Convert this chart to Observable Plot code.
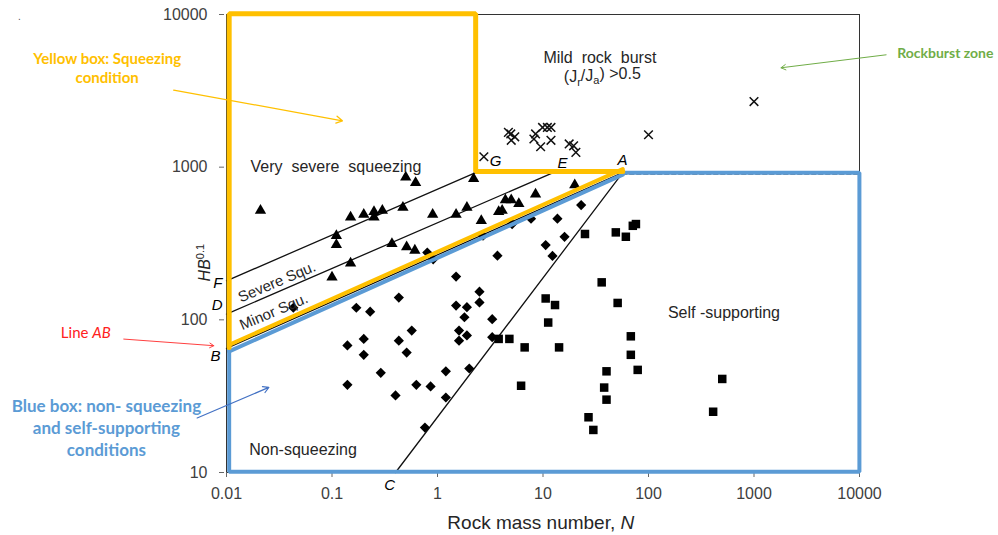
<!DOCTYPE html>
<html><head><meta charset="utf-8">
<script src="https://cdn.jsdelivr.net/npm/d3@7"></script>
<script src="https://cdn.jsdelivr.net/npm/@observablehq/plot@0.6"></script>
<style>body{margin:0;background:#fff;}</style>
</head><body><div id="chart"></div>
<script>
// ---- tick values ----
const xTicks = [0.01, 0.1, 1, 10, 100, 1000, 10000];
const yTicks = [10, 100, 1000, 10000];

// ---- case histories [N, HB^0.1] ----
const triangles = [[0.021,520],[0.50,860],[0.62,790],[2.2,840],[0.15,470],[0.20,490],[0.25,510],[0.30,520],[0.25,470],[0.47,545],[0.90,490],[1.5,490],[1.9,545],[3.8,510],[0.11,355],[0.11,310],[0.37,315],[0.51,300],[0.61,285],[0.15,235],[0.10,190],[2.6,445],[4.4,610],[5.0,610],[5.9,575],[4.1,520],[8.5,665],[20,765]];
const diamonds = [[0.043,120],[0.17,120],[0.23,113],[0.43,140],[1.5,192],[2.5,153],[2.5,130],[1.5,124],[1.9,121],[1.8,104],[3.3,101],[3.7,263],[0.80,276],[0.91,249],[2.7,356],[0.14,68],[0.20,75],[0.43,73],[0.57,85],[1.6,85],[1.9,79],[1.6,73],[3.3,77],[0.20,59],[0.51,61],[0.29,45],[0.14,37.5],[0.40,32],[0.63,37.5],[0.86,36.6],[1.2,46],[1.2,31],[2.0,48],[0.76,19.7],[23,565],[7.7,460],[13.7,460],[5.1,424],[16,350],[10.6,309],[12.3,262]];
const squares = [[25,365],[49,374],[61,350],[71,413],[76,424],[36,176],[10.6,138],[13,125],[51,129],[11.2,96],[68,78],[3.8,75],[4.8,75],[6.7,66],[14.2,66],[6.2,37],[68,59],[79,47],[40,46],[38,36],[40,30],[27,23],[30,19],[500,41],[410,25]];
const crosses = [[2.75,1170],[4.7,1690],[4.95,1650],[5.4,1580],[5.0,1500],[8.5,1650],[8.2,1530],[9.9,1820],[11.0,1820],[11.9,1820],[9.5,1360],[11.9,1500],[17.7,1420],[19.5,1380],[20.5,1250],[100,1630],[1000,2690]];

// ---- boundary lines ----
const lineAB = [[0.01,65],[57,920]];
const lineFG = [[0.01,180],[2.3,920]];
const lineDE = [[0.01,109],[12.5,920]];
const lineAC = [[57,920],[0.40,10]];
const lineAdash = [[57,920],[9980,920]];
const yellowBox = [[0.0106,66],[0.0106,10100],[2.3,10100],[2.3,935],[57,935]];
const yellowAB = [[57,935],[0.0106,66]];
const blueBox = [[57,920],[9980,920],[9980,10.1],[0.0106,10.1],[0.0106,64]];
const blueAB = [[0.0106,64],[57,920]];

const P = a => a.map(([x, y]) => ({x, y}));
const note = (t, x, y, o) => Plot.text([{t, x, y}], {x: "x", y: "y", text: "t", ...o});
const arrow = (x1, y1, x2, y2, o) => Plot.arrow([{x1, y1, x2, y2}], {x1: "x1", y1: "y1", x2: "x2", y2: "y2", headLength: 8, ...o});

const ink = "#262626";
const chart = Plot.plot({
  width: 998, height: 535,
  marginLeft: 226, marginRight: 139, marginTop: 14, marginBottom: 63,
  style: {fontFamily: "'Liberation Sans', Arial, sans-serif", fontSize: "16px", color: "#404040", background: "#fff"},
  x: {type: "log", domain: [0.01, 10000]},
  y: {type: "log", domain: [10, 10000]},
  marks: [
    Plot.frame({stroke: "#333", strokeWidth: 1}),
    Plot.axisX(xTicks, {tickSize: 5, tickPadding: 10, tickFormat: d => String(d), label: null, stroke: "#666"}),
    Plot.axisY(yTicks, {tickSize: 5, tickPadding: 12, tickFormat: d => String(d), label: null, stroke: "#666", dx: -2}),
    Plot.line(P(lineFG), {x: "x", y: "y", stroke: "#111", strokeWidth: 1.3}),
    Plot.line(P(lineDE), {x: "x", y: "y", stroke: "#111", strokeWidth: 1.3}),
    Plot.line(P(lineAB), {x: "x", y: "y", stroke: "#111", strokeWidth: 1.3}),
    Plot.line(P(lineAC), {x: "x", y: "y", stroke: "#111", strokeWidth: 1.3}),
    Plot.line(P(lineAdash), {x: "x", y: "y", stroke: "#555", strokeWidth: 1.2, strokeDasharray: "4,3", dy: 1.5}),
    Plot.dot(P(triangles), {x: "x", y: "y", symbol: "triangle", r: 4.2, fill: "#000", stroke: "none"}),
    Plot.dot(P(diamonds), {x: "x", y: "y", symbol: "diamond2", r: 4.6, fill: "#000", stroke: "none"}),
    Plot.dot(P(squares), {x: "x", y: "y", symbol: "square", r: 4.8, fill: "#000", stroke: "none"}),
    Plot.dot(P(crosses), {x: "x", y: "y", symbol: "times", r: 4, stroke: "#111", strokeWidth: 1.5, fill: "none"}),
    Plot.line(P(blueBox), {x: "x", y: "y", stroke: "#5B9BD5", strokeWidth: 4, strokeLinejoin: "miter"}),
    Plot.line(P(blueAB), {x: "x", y: "y", stroke: "#5B9BD5", strokeWidth: 4, dy: 2}),
    Plot.line(P(yellowBox), {x: "x", y: "y", stroke: "#FFC000", strokeWidth: 5, strokeLinejoin: "miter"}),
    Plot.line(P(yellowAB), {x: "x", y: "y", stroke: "#FFC000", strokeWidth: 4, dy: -2.5}),
    // in-plot labels
    note("Very  severe  squeezing", 0.0169, 1006, {textAnchor: "start", fill: ink, fontSize: 16}),
    note("Mild  rock  burst", 34.6, 5166, {fill: ink, fontSize: 16}),
    note("(Jr/Ja) >0.5", 36.5, 3881, {fill: ink, fontSize: 16}),
    note("Self -supporting", 519, 111.3, {fill: ink, fontSize: 16}),
    note("Non-squeezing", 0.0532, 14.1, {fill: ink, fontSize: 16}),
    note("Severe Squ.", 0.0301, 177, {fill: ink, fontSize: 15, rotate: -23}),
    note("Minor Squ.", 0.0281, 113, {fill: ink, fontSize: 15, rotate: -23}),
    note("F", 0.00827, 173, {fill: "#000", fontSize: 15, fontStyle: "italic"}),
    note("D", 0.00816, 125.6, {fill: "#000", fontSize: 15, fontStyle: "italic"}),
    note("B", 0.00787, 58.2, {fill: "#000", fontSize: 15, fontStyle: "italic"}),
    note("G", 3.56, 1089, {fill: "#000", fontSize: 15, fontStyle: "italic"}),
    note("E", 15.3, 1069, {fill: "#000", fontSize: 15, fontStyle: "italic"}),
    note("A", 56.8, 1112, {fill: "#000", fontSize: 15, fontStyle: "italic"}),
    note("C", 0.352, 8.32, {fill: "#000", fontSize: 15, fontStyle: "italic"}),
    // axis titles
    note("HB0.1", 0.00618, 237, {fill: ink, fontSize: 16, rotate: -90}),
    note("Rock mass number, N", 9.53, 4.69, {fill: ink, fontSize: 19}),
    // outside annotations
    note(".", 0.0001087, 9660, {fill: "#555", fontSize: 10}),
    note("Yellow box: Squeezing\ncondition", 0.00074, 4510, {fill: "#FFC000", fontSize: 15, fontWeight: "bold", fontFamily: "Lato, sans-serif", lineHeight: 1.27}),
    arrow(0.00316, 3199, 0.1254, 2013, {stroke: "#FFC000", strokeWidth: 1.3}),
    note("Line AB", 0.000464, 82.3, {fill: "#FF2020", fontSize: 15, fontFamily: "Lato, sans-serif"}),
    arrow(0.001062, 74.8, 0.00758, 67.7, {stroke: "#FF4040", strokeWidth: 1, headLength: 7}),
    note("Blue box: non- squeezing\nand self-supporting\nconditions", 0.000727, 19.95, {fill: "#5B9BD5", fontSize: 17, fontWeight: "bold", fontFamily: "Lato, sans-serif", lineHeight: 1.3}),
    arrow(0.00527, 22.75, 0.0252, 36.1, {stroke: "#4472C4", strokeWidth: 1.2}),
    note("Rockburst zone", 22750, 5530, {fill: "#70AD47", fontSize: 14, fontWeight: "bold", fontFamily: "Lato, sans-serif", textAnchor: "start"}),
    arrow(17870, 5445, 1803, 4477, {stroke: "#70AD47", strokeWidth: 1})
  ]
});
document.getElementById("chart").appendChild(chart);

// rich text (sub/superscripts, italics)
const svg = d3.select(chart);
function rich(match, parts) {
  svg.selectAll("text").filter(function () { return this.textContent === match; }).each(function () {
    const t = d3.select(this);
    t.text(null);
    for (const p of parts) {
      const s = t.append("tspan").text(p.t);
      if (p.it) s.attr("font-style", "italic");
      if (p.dy) s.attr("dy", p.dy);
      if (p.size) s.attr("font-size", p.size);
    }
  });
}
rich("HB0.1", [{t: "HB", it: true}, {t: "0.1", dy: "-0.5em", size: 11}]);
rich("(Jr/Ja) >0.5", [{t: "(J"}, {t: "r", dy: "0.3em", size: 11}, {t: "/J", dy: "-0.3em"}, {t: "a", dy: "0.3em", size: 11}, {t: ") >0.5", dy: "-0.3em"}]);
rich("Rock mass number, N", [{t: "Rock mass number, "}, {t: "N", it: true}]);
rich("Line AB", [{t: "Line "}, {t: "AB", it: true}]);
</script>
</body></html>
